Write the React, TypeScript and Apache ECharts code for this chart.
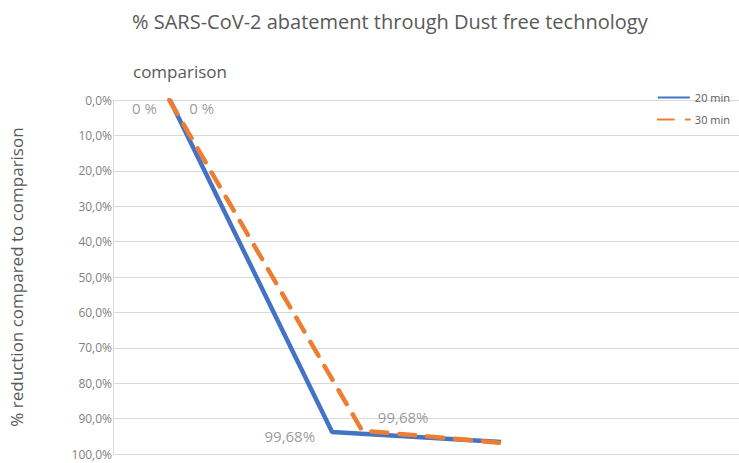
import React, { useEffect, useRef } from "react";
import * as echarts from "echarts";

const yTicks = [0, 10, 20, 30, 40, 50, 60, 70, 80, 90, 100];
const seriesNames = ["20 min", "30 min"];
const xBlue = [9.1, 35, 62];
const yBlue = [0, 93.8, 96.6];
const xOrange = [9.0, 39.8, 62.2];
const yOrange = [0, 93.4, 96.9];
const labelsBlue = ["0 %", "99,68%", ""];
const labelsOrange = ["0 %", "99,68%", ""];

const fmtPct = (v: number) => v.toFixed(1).replace(".", ",") + "%";

export default function App() {
  const ref = useRef<HTMLDivElement>(null);
  useEffect(() => {
    if (!ref.current) return;
    const chart = echarts.init(ref.current, undefined, { renderer: "svg" });
    const font = "'Open Sans', Lato, sans-serif";
    chart.setOption({
      animation: false,
      backgroundColor: "#ffffff",
      textStyle: { fontFamily: font },
      title: [
        {
          text: "% SARS-CoV-2 abatement through Dust free technology",
          left: 127,
          top: 6,
          textStyle: { fontSize: 20, fontWeight: "normal", color: "#595959", fontFamily: font },
        },
        {
          text: "comparison",
          left: 128,
          top: 58,
          textStyle: { fontSize: 17, fontWeight: "normal", color: "#595959", fontFamily: font },
        },
      ],
      legend: {
        right: 4,
        top: 87,
        orient: "vertical",
        itemWidth: 32,
        itemHeight: 10,
        itemGap: 11,
        itemStyle: { opacity: 0 },
        data: seriesNames,
        textStyle: { fontSize: 11, color: "#595959", fontFamily: font },
      },
      grid: { left: 113, right: 0, top: 100, bottom: 9, outerBoundsMode: "none", containLabel: false },
      xAxis: {
        type: "value",
        min: 0,
        max: 100,
        show: false,
      },
      yAxis: {
        type: "value",
        inverse: true,
        min: 0,
        max: 100,
        interval: 10,
        name: "% reduction compared to comparison",
        nameLocation: "middle",
        nameGap: 88,
        nameTextStyle: { fontSize: 17, color: "#595959", fontFamily: font },
        axisLine: { show: true, lineStyle: { color: "#d9d9d9", width: 1 } },
        axisTick: { show: false },
        axisLabel: {
          formatter: (v: number) => fmtPct(v),
          color: "#7f7f7f",
          fontSize: 12,
          margin: 1,
          fontFamily: font,
        },
        splitLine: { show: true, lineStyle: { color: "#d9d9d9", width: 1 } },
      },
      series: [
        {
          name: seriesNames[0],
          type: "line",
          symbol: "none",
          data: xBlue.map((x, i) => [x, yBlue[i]]),
          lineStyle: { color: "#4472c4", width: 4.5 },
          itemStyle: { color: "#4472c4" },
          z: 2,
        },
        {
          name: seriesNames[1],
          type: "line",
          symbol: "none",
          data: xOrange.map((x, i) => [x, yOrange[i]]),
          lineStyle: { color: "#ed7d31", width: 4.5, type: [16, 12], cap: "round" },
          itemStyle: { color: "#ed7d31" },
          z: 3,
        },
        {
          name: "labelsBlue",
          type: "scatter",
          symbolSize: 0,
          silent: true,
          data: xBlue.map((x, i) => ({
            value: [x, yBlue[i]],
            label: {
              show: labelsBlue[i] !== "",
              formatter: labelsBlue[i],
              position: "left",
              distance: i === 0 ? 13 : 17,
              offset: i === 0 ? [0, 8] : [0, 4],
              color: "#7f7f7f",
              fontSize: 15,
              fontFamily: font,
            },
          })),
        },
        {
          name: "labelsOrange",
          type: "scatter",
          symbolSize: 0,
          silent: true,
          data: xOrange.map((x, i) => ({
            value: [x, yOrange[i]],
            label: {
              show: labelsOrange[i] !== "",
              formatter: labelsOrange[i],
              position: i === 0 ? "right" : "top",
              distance: i === 0 ? 20 : 6,
              offset: i === 0 ? [0, 8] : [41, 0],
              color: "#7f7f7f",
              fontSize: 15,
              fontFamily: font,
            },
          })),
        },
      ],
    });
    return () => chart.dispose();
  }, []);
  return (
    <div
      ref={ref}
      style={{ position: "absolute", left: 0, top: 0, width: 739, height: 463 }}
    />
  );
}
